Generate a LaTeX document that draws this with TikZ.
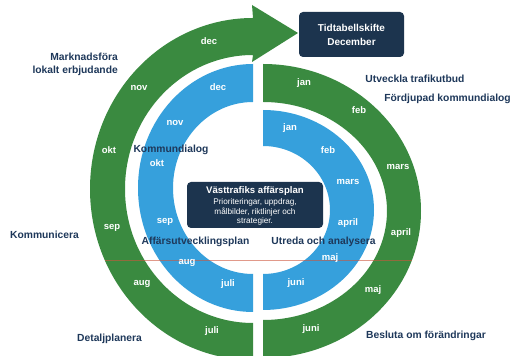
\documentclass[tikz,border=0pt]{standalone}
\usepackage{fontspec}
\setmainfont{Liberation Sans}
\definecolor{ringgreen}{RGB}{58,138,64}
\definecolor{ringblue}{RGB}{54,160,220}
\definecolor{navybox}{RGB}{28,52,78}
\definecolor{labelnavy}{RGB}{30,56,90}
\definecolor{redline}{RGB}{205,85,60}
\begin{document}
\begin{tikzpicture}[x=1pt,y=1pt,
  month/.style={text=white, font=\bfseries\fontsize{9.5}{11}\selectfont, inner sep=0pt},
  lbl/.style={text=labelnavy, font=\bfseries\fontsize{10.3}{13}\selectfont, inner sep=0pt},
  darkbox/.style={fill=navybox, rounded corners=4pt, text=white, inner sep=0pt}]
\useasboundingbox (0,0) rectangle (512,356);
\clip (0,0) rectangle (512,356);
\fill[white] (0,0) rectangle (512,356);
% left outer green band with arrow
\fill[ringgreen] (253,-4) arc[start angle=270, end angle=90, x radius=163, y radius=171]
  -- (252,351) -- (298,323) -- (252,294) -- (253,301)
  arc[start angle=90, end angle=270, x radius=128, y radius=134] -- cycle;
% left inner blue band
\fill[ringblue] (253,44) arc[start angle=270, end angle=90, x radius=115, y radius=124]
  -- (253,254) arc[start angle=90, end angle=270, x radius=80, y radius=86] -- cycle;
% right outer green band
\fill[ringgreen] (263,292) arc[start angle=90, end angle=-90, x radius=158, y radius=147]
  -- (263,36) arc[start angle=-90, end angle=90, x radius=124, y radius=109] -- cycle;
% right inner blue band
\fill[ringblue] (263,246) arc[start angle=90, end angle=-90, x radius=111, y radius=100]
  -- (263,82) arc[start angle=-90, end angle=90, x radius=67, y radius=64] -- cycle;
% thin red line
\draw[redline, opacity=.6, line width=.6pt] (105,96) -- (412,96);
% boxes
\node[darkbox, minimum width=105, minimum height=45, align=center,
  font=\bfseries\fontsize{10}{14}\selectfont] (tt) at (351.5,321.5) {Tidtabellskifte\\December};
\node[darkbox, minimum width=136, minimum height=46] (plan) at (255,151) {};
\node[text=white, inner sep=0pt, font=\bfseries\fontsize{9.6}{11}\selectfont] (plantitle) at (255,165) {Västtrafiks affärsplan};
\node[text=white, inner sep=0pt, align=center, font=\fontsize{8.2}{9.5}\selectfont] (plantext) at (255,144) {Prioriteringar, uppdrag,\\målbilder, riktlinjer och\\strategier.};
% outer green months (left)
\node[month] (gdec) at (209,315) {dec};
\node[month] (gnov) at (139,268) {nov};
\node[month] (gokt) at (109,206) {okt};
\node[month] (gsep) at (112,128) {sep};
\node[month] (gaug) at (142,72) {aug};
\node[month] (gjul) at (212,25) {juli};
% outer green months (right)
\node[month] (gjan) at (304,273) {jan};
\node[month] (gfeb) at (359,246) {feb};
\node[month] (gmar) at (398,189) {mars};
\node[month] (gapr) at (401,123) {april};
\node[month] (gmaj) at (373,66) {maj};
\node[month] (gjun) at (311,27) {juni};
% inner blue months (left)
\node[month] (bdec) at (218,269) {dec};
\node[month] (bnov) at (175,233) {nov};
\node[month] (bokt) at (157,193) {okt};
\node[month] (bsep) at (165,134) {sep};
\node[month] (baug) at (187,93) {aug};
\node[month] (bjul) at (228,72) {juli};
% inner blue months (right)
\node[month] (bjan) at (290,228) {jan};
\node[month] (bfeb) at (328,206) {feb};
\node[month] (bmar) at (348,174) {mars};
\node[month] (bapr) at (348,133) {april};
\node[month] (bmaj) at (330,98) {maj};
\node[month] (bjun) at (296,73) {juni};
% labels
\node[lbl, anchor=east, align=right] (mark) at (118,291.5) {Marknadsföra\\lokalt erbjudande};
\node[lbl] (komm) at (44.5,121) {Kommunicera};
\node[lbl] (detalj) at (109.5,17) {Detaljplanera};
\node[lbl] (utv) at (415,277) {Utveckla trafikutbud};
\node[lbl] (fordj) at (447.5,257) {Fördjupad kommundialog};
\node[lbl] (besl) at (426,20) {Besluta om förändringar};
\node[lbl] (kdial) at (171,206) {Kommundialog};
\node[lbl] (aff) at (195.5,114) {Affärsutvecklingsplan};
\node[lbl] (utr) at (323.5,114) {Utreda och analysera};
\end{tikzpicture}
\end{document}
